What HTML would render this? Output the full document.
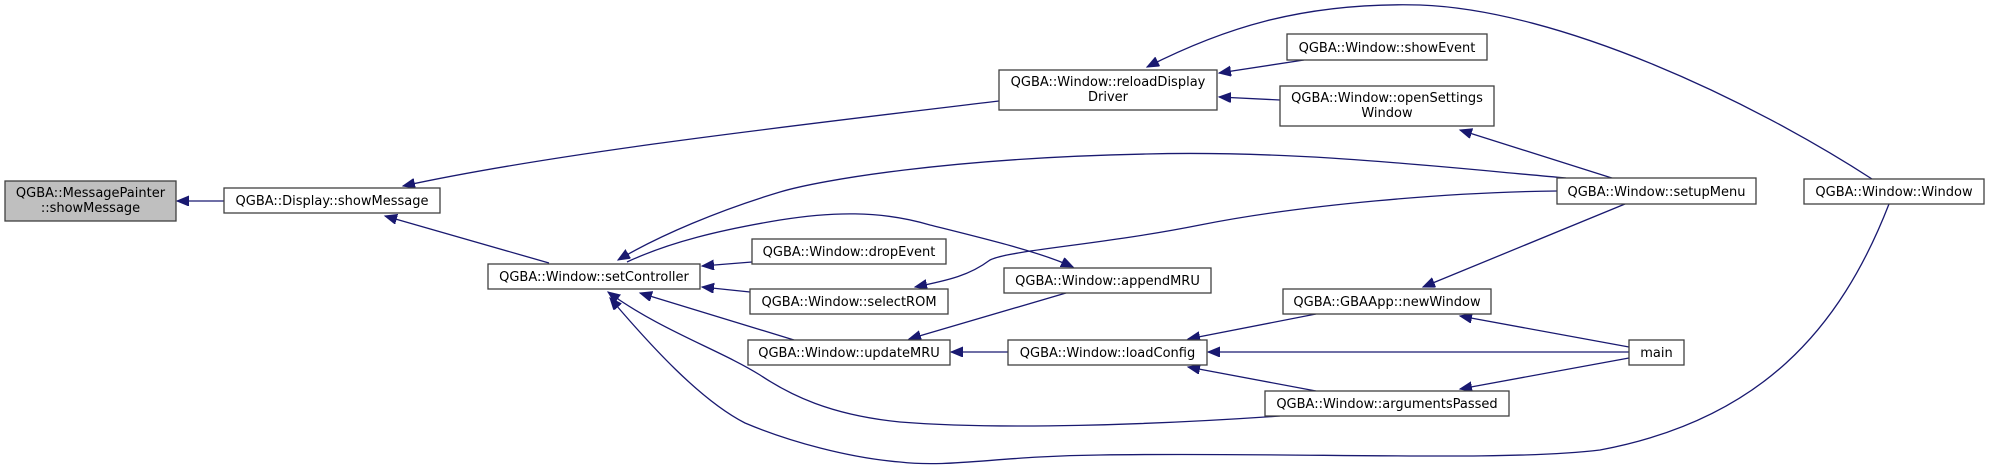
<!DOCTYPE html>
<html><head><meta charset="utf-8"><style>
html,body{margin:0;padding:0;background:#fff;}
svg{display:block;}
text{font-family:"DejaVu Sans","Liberation Sans",sans-serif;font-size:13px;fill:#000;}
.n{fill:#fff;stroke:#404040;stroke-width:1.3;}
.e{fill:none;stroke:#191970;stroke-width:1.3;}
</style></head><body>
<svg width="1989" height="468" viewBox="0 0 1989 468" xmlns="http://www.w3.org/2000/svg">
<defs>
<marker id="a" markerUnits="userSpaceOnUse" markerWidth="14" markerHeight="12" refX="12" refY="5" orient="auto">
<path d="M0,0 L12,5 L0,10 Z" fill="#191970" stroke="#191970"/>
</marker>
</defs>
<!-- edges -->
<path class="e" marker-end="url(#a)" d="M224,201 L177,201"/>
<path class="e" marker-end="url(#a)" d="M999,101 C800,125 560,152 403,186"/>
<path class="e" marker-end="url(#a)" d="M549,263 L385,216"/>
<path class="e" marker-end="url(#a)" d="M1304,60 L1219,73"/>
<path class="e" marker-end="url(#a)" d="M1280,100 L1219,97"/>
<path class="e" marker-end="url(#a)" d="M1872,179 C1750,100 1560,10 1420,5 C1300,2 1220,30 1147,67"/>
<path class="e" marker-end="url(#a)" d="M1615,179 L1460,130"/>
<path class="e" marker-end="url(#a)" d="M1566,178 C1450,168 1300,150 1146,154 C950,158 820,180 780,192 C720,210 660,235 618,260"/>
<path class="e" marker-end="url(#a)" d="M1889,204 C1840,330 1760,420 1600,450 C1500,462 1300,452 1100,455 C1000,456 950,468 900,462 C850,458 790,442 745,423 C700,400 650,345 610,298"/>
<path class="e" marker-end="url(#a)" d="M1557,191 C1450,192 1300,205 1200,225 C1100,245 1010,250 990,260 C970,275 950,280 915,287"/>
<path class="e" marker-end="url(#a)" d="M627,262 C670,242 720,230 780,220 C830,212 880,210 930,225 C990,240 1040,252 1073,267"/>
<path class="e" marker-end="url(#a)" d="M752,262 L702,266"/>
<path class="e" marker-end="url(#a)" d="M750,292 L702,287"/>
<path class="e" marker-end="url(#a)" d="M794,340 L640,293"/>
<path class="e" marker-end="url(#a)" d="M1066,293 L909,339"/>
<path class="e" marker-end="url(#a)" d="M1008,352 L951,352"/>
<path class="e" marker-end="url(#a)" d="M1316,314 L1188,339"/>
<path class="e" marker-end="url(#a)" d="M1629,352 L1208,352"/>
<path class="e" marker-end="url(#a)" d="M1316,391 L1188,367"/>
<path class="e" marker-end="url(#a)" d="M1625,204 L1423,287"/>
<path class="e" marker-end="url(#a)" d="M1629,347 L1460,316"/>
<path class="e" marker-end="url(#a)" d="M1629,358 L1460,389"/>
<path class="e" marker-end="url(#a)" d="M1280,416 C1150,425 1000,430 900,422 C830,415 790,395 760,375 C720,350 660,330 608,292"/>
<!-- nodes -->
<rect x="5" y="181" width="171" height="40" style="fill:#bfbfbf;stroke:#404040;stroke-width:1.3"/>
<text x="90.5" y="197" text-anchor="middle">QGBA::MessagePainter</text>
<text x="90.5" y="212" text-anchor="middle">::showMessage</text>
<rect class="n" x="224" y="188" width="216" height="25"/>
<text x="332" y="205" text-anchor="middle">QGBA::Display::showMessage</text>
<rect class="n" x="488" y="264" width="212" height="25"/>
<text x="594" y="281" text-anchor="middle">QGBA::Window::setController</text>
<rect class="n" x="999" y="70" width="218" height="40"/>
<text x="1108" y="86" text-anchor="middle">QGBA::Window::reloadDisplay</text>
<text x="1108" y="101" text-anchor="middle">Driver</text>
<rect class="n" x="1287" y="34" width="200" height="26"/>
<text x="1387" y="52" text-anchor="middle">QGBA::Window::showEvent</text>
<rect class="n" x="1280" y="86" width="214" height="40"/>
<text x="1387" y="102" text-anchor="middle">QGBA::Window::openSettings</text>
<text x="1387" y="117" text-anchor="middle">Window</text>
<rect class="n" x="1557" y="178" width="199" height="26"/>
<text x="1656.5" y="196" text-anchor="middle">QGBA::Window::setupMenu</text>
<rect class="n" x="1804" y="179" width="180" height="25"/>
<text x="1894" y="196" text-anchor="middle">QGBA::Window::Window</text>
<rect class="n" x="752" y="239" width="194" height="25"/>
<text x="849" y="256" text-anchor="middle">QGBA::Window::dropEvent</text>
<rect class="n" x="750" y="289" width="198" height="25"/>
<text x="849" y="306" text-anchor="middle">QGBA::Window::selectROM</text>
<rect class="n" x="1004" y="268" width="207" height="25"/>
<text x="1107.5" y="285" text-anchor="middle">QGBA::Window::appendMRU</text>
<rect class="n" x="748" y="340" width="202" height="25"/>
<text x="849" y="357" text-anchor="middle">QGBA::Window::updateMRU</text>
<rect class="n" x="1008" y="340" width="199" height="25"/>
<text x="1107.5" y="357" text-anchor="middle">QGBA::Window::loadConfig</text>
<rect class="n" x="1283" y="289" width="208" height="25"/>
<text x="1387" y="306" text-anchor="middle">QGBA::GBAApp::newWindow</text>
<rect class="n" x="1629" y="340" width="55" height="25"/>
<text x="1656.5" y="357" text-anchor="middle">main</text>
<rect class="n" x="1265" y="391" width="244" height="25"/>
<text x="1387" y="408" text-anchor="middle">QGBA::Window::argumentsPassed</text>
</svg>
</body></html>
